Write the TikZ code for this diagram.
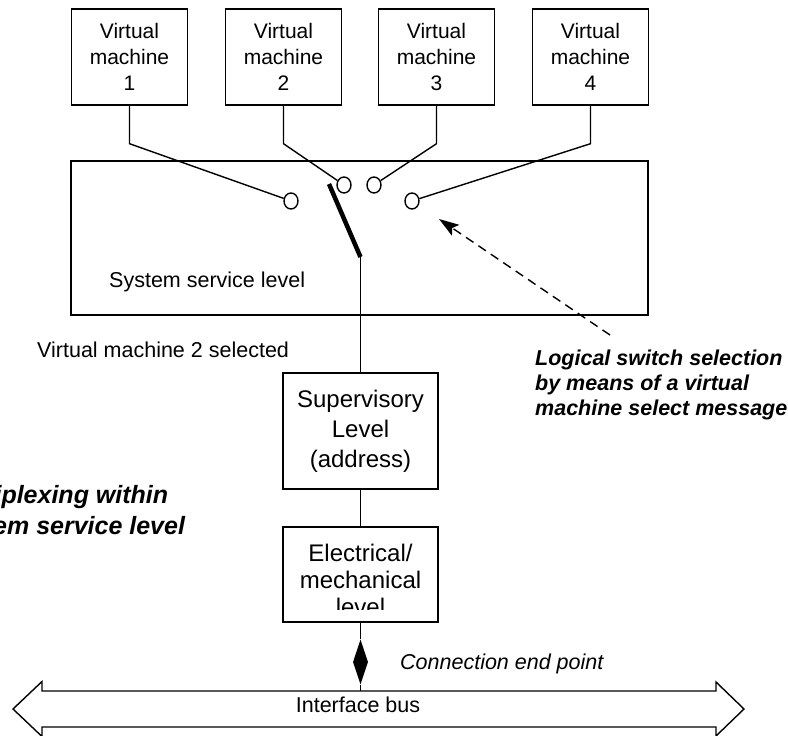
\documentclass[tikz,border=0pt]{standalone}
\usepackage{fontspec}
\setmainfont{Liberation Sans}
\usetikzlibrary{shapes.geometric,arrows.meta}

\begin{document}
\begin{tikzpicture}[x=1pt, y=1pt,
    box/.style={draw, line width=1.4pt, inner sep=0pt, align=center},
    vmbox/.style={box, minimum width=116pt, minimum height=96pt, font=\fontsize{21}{26}\selectfont},
    levelbox/.style={box, minimum width=155pt, font=\fontsize{24}{30}\selectfont},
    contact/.style={draw, ellipse, line width=1.4pt, minimum width=14pt, minimum height=16pt, inner sep=0pt},
    wire/.style={line width=1.4pt},
    plain/.style={inner sep=0pt, font=\fontsize{21.5}{25}\selectfont},
    remark/.style={inner sep=0pt, align=left, font=\fontsize{21.5}{25}\selectfont\bfseries\itshape}]
  \useasboundingbox (0,0) rectangle (788,-736);

  \foreach \i/\x in {1/129.5, 2/283.5, 3/436.5, 4/590.5}
    \node[vmbox] (vm\i) at (\x,-57) {Virtual\\machine\\\i};

  \node[box, minimum width=577pt, minimum height=154pt] (sys) at (359.5,-238) {};
  \node[plain, anchor=base west] (syslabel) at (109,-287) {System service level};

  \node[contact] (c1) at (291,-201) {};
  \node[contact] (c2) at (344,-185) {};
  \node[contact] (c3) at (374,-185) {};
  \node[contact] (c4) at (412,-201) {};
  \foreach \i in {1,...,4}
    \draw[wire] (vm\i.south) -- ++(0,-38) -- (c\i);

  \coordinate (pivot) at (360.5,-257);
  \coordinate (blade) at (329,-184);
  \draw[line width=4.5pt] (pivot) -- (blade);

  \node[plain, anchor=base west] (selected) at (37,-357) {Virtual machine 2 selected};

  \node[levelbox, minimum height=116pt] (sup) at (360.5,-431) {Supervisory\\Level\\(address)};
  \node[levelbox, minimum height=95pt] (elec) at (360.5,-574.5) {};
  \begin{scope}
    \clip (elec.north west) rectangle ([yshift=13pt]elec.south east);
    \node[align=center, inner sep=0pt, font=\fontsize{24}{27}\selectfont] (eleclabel) at (360.5,-579.5) {Electrical/\\mechanical\\level};
  \end{scope}

  \draw[wire] (pivot) -- (sup);
  \draw[wire] (sup) -- (elec);

  % connection end point
  \node[diamond, fill, minimum width=15pt, minimum height=45pt, inner sep=0pt] (cep) at (360.5,-662) {};
  \coordinate (bustop) at (360.5,-691);
  \draw[wire] (elec.south) -- (cep);
  \draw[wire] (cep) -- (bustop);
  \node[plain, anchor=base west, font=\fontsize{21.5}{25}\selectfont\itshape] (ceplabel) at (400,-669) {Connection end point};

  % interface bus
  \draw[wire] (13,-709) -- (42,-681.5) -- (42,-691) -- (716,-691) -- (716,-682) -- (744,-709)
    -- (716,-736) -- (716,-727) -- (42,-727) -- (42,-736.5) -- cycle;
  \node[plain, anchor=base] (buslabel) at (358,-712) {Interface bus};

  \coordinate (hint) at (610,-335);
  \coordinate (aim) at (439,-219);
  \draw[wire, dash pattern=on 9pt off 6pt, -{Stealth[length=20pt, width=13pt, inset=4pt]}] (hint) -- (aim);
  \node[remark, anchor=north west] (hintlabel) at (535,-349.5) {Logical switch selection\\by means of a virtual\\machine select message};

  \node[remark, anchor=north west, font=\fontsize{25}{31}\selectfont\bfseries\itshape] (muxlabel) at (-57,-485) {Multiplexing within\\system service level};
  %\node[plain] at (360,-20) {};
\end{tikzpicture}
\end{document}
